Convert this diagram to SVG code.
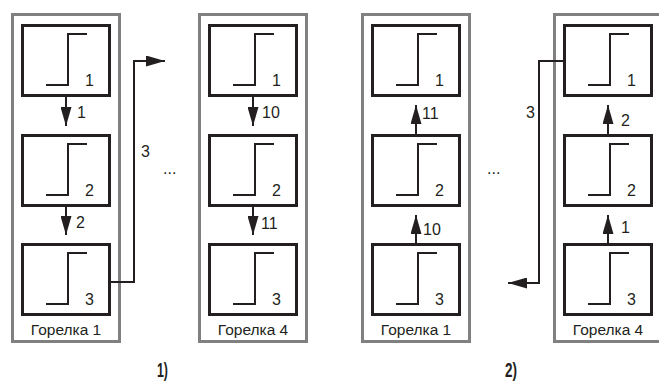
<svg xmlns="http://www.w3.org/2000/svg" width="659" height="381" viewBox="0 0 659 381">
<style>
.outer{fill:none;stroke:#808080;stroke-width:3}
.box{fill:#fff;stroke:#231f20;stroke-width:3}
.step{fill:none;stroke:#231f20;stroke-width:2}
.con{fill:none;stroke:#231f20;stroke-width:2}
text{font-family:"Liberation Sans",Arial,sans-serif;font-size:16px;fill:#231f20}
.num{text-anchor:end}
.cap{text-anchor:middle;font-size:15.5px}
.fig{font-weight:bold;font-size:21px}
</style>
<defs>
<marker id="ah" markerUnits="userSpaceOnUse" markerWidth="19" markerHeight="11" refX="19" refY="5.5" orient="auto">
<path d="M0,0 L19,5.5 L0,11 Z" fill="#231f20"/>
</marker>
<g id="unit">
<rect class="box" x="1.5" y="1.5" width="87" height="70"/>
<path class="step" d="M25,61 H47 V10 H66"/>
</g>
</defs>

<g id="burner1a">
<rect class="outer" x="12.5" y="14.5" width="107" height="327"/>
<text class="cap" x="66" y="335">Горелка 1</text>
</g>
<g id="b1a-1"><use href="#unit" x="21" y="24"/><text class="num" x="94" y="86">1</text></g>
<g id="b1a-2"><use href="#unit" x="21" y="134"/><text class="num" x="94" y="196">2</text></g>
<g id="b1a-3"><use href="#unit" x="21" y="243"/><text class="num" x="94" y="305">3</text></g>

<g id="burner4a">
<rect class="outer" x="199.5" y="14.5" width="107" height="327"/>
<text class="cap" x="253" y="335">Горелка 4</text>
</g>
<g id="b4a-1"><use href="#unit" x="208" y="24"/><text class="num" x="281" y="86">1</text></g>
<g id="b4a-2"><use href="#unit" x="208" y="134"/><text class="num" x="281" y="196">2</text></g>
<g id="b4a-3"><use href="#unit" x="208" y="243"/><text class="num" x="281" y="305">3</text></g>

<g id="burner1b">
<rect class="outer" x="362.5" y="14.5" width="107" height="327"/>
<text class="cap" x="416" y="335">Горелка 1</text>
</g>
<g id="b1b-1"><use href="#unit" x="371" y="24"/><text class="num" x="444" y="86">1</text></g>
<g id="b1b-2"><use href="#unit" x="371" y="134"/><text class="num" x="444" y="196">2</text></g>
<g id="b1b-3"><use href="#unit" x="371" y="243"/><text class="num" x="444" y="305">3</text></g>

<g id="burner4b">
<rect class="outer" x="554.5" y="14.5" width="107" height="327"/>
<text class="cap" x="608" y="335">Горелка 4</text>
</g>
<g id="b4b-1"><use href="#unit" x="563" y="24"/><text class="num" x="636" y="86">1</text></g>
<g id="b4b-2"><use href="#unit" x="563" y="134"/><text class="num" x="636" y="196">2</text></g>
<g id="b4b-3"><use href="#unit" x="563" y="243"/><text class="num" x="636" y="305">3</text></g>

<g id="connectors">
<path class="con" d="M66,97 V126" marker-end="url(#ah)"/>
<path class="con" d="M66,207 V235" marker-end="url(#ah)"/>
<path class="con" d="M110,282 H134 V61 H165" marker-end="url(#ah)"/>
<path class="con" d="M253,97 V126" marker-end="url(#ah)"/>
<path class="con" d="M253,207 V235" marker-end="url(#ah)"/>
<path class="con" d="M416,134 V105" marker-end="url(#ah)"/>
<path class="con" d="M416,243 V215" marker-end="url(#ah)"/>
<path class="con" d="M608,134 V105" marker-end="url(#ah)"/>
<path class="con" d="M608,243 V215" marker-end="url(#ah)"/>
<path class="con" d="M564,61 H539 V283 H508" marker-end="url(#ah)"/>
</g>

<g id="labels">
<text x="77" y="118">1</text>
<text x="76" y="228">2</text>
<text x="141" y="157">3</text>
<text x="262" y="118">10</text>
<text x="261" y="229">11</text>
<text x="422" y="119">11</text>
<text x="423" y="235">10</text>
<text x="621" y="126">2</text>
<text x="621" y="233">1</text>
<text x="526" y="118">3</text>
<text x="163" y="174">...</text>
<text x="487" y="174">...</text>
<text class="fig" x="157" y="377" textLength="11" lengthAdjust="spacingAndGlyphs">1)</text>
<text class="fig" x="505" y="377" textLength="12" lengthAdjust="spacingAndGlyphs">2)</text>
</g>
</svg>
